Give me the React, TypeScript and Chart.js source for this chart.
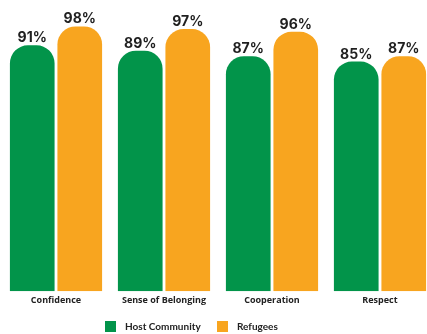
import React, { useEffect, useRef } from "react";
import { Chart, registerables } from "chart.js";

Chart.register(...registerables);

const categories = ["Confidence", "Sense of Belonging", "Cooperation", "Respect"];
const hostCommunity = [91, 89, 87, 85];
const refugees = [98, 97, 96, 87];
const seriesNames = ["Host Community", "Refugees"];
const GREEN = "#02944A";
const ORANGE = "#F8A51F";

const valueLabels = {
  id: "valueLabels",
  afterDatasetsDraw(chart: any) {
    const ctx = chart.ctx;
    ctx.save();
    ctx.font = "bold 14px Inter, 'DejaVu Sans', sans-serif";
    ctx.fillStyle = "#1f1f1f";
    ctx.textAlign = "center";
    ctx.textBaseline = "alphabetic";
    chart.data.datasets.forEach((ds: any, i: number) => {
      const meta = chart.getDatasetMeta(i);
      meta.data.forEach((bar: any, j: number) => {
        ctx.fillText(ds.data[j] + "%", bar.x, bar.y - 3);
      });
    });
    ctx.restore();
  },
};

export default function App() {
  const ref = useRef<HTMLCanvasElement>(null);
  useEffect(() => {
    if (!ref.current) return;
    const chart = new Chart(ref.current, {
      type: "bar",
      data: {
        labels: categories,
        datasets: [
          {
            label: seriesNames[0],
            data: hostCommunity,
            backgroundColor: GREEN,
            borderRadius: { topLeft: 18, topRight: 18, bottomLeft: 0, bottomRight: 0 },
            borderSkipped: false,
            barPercentage: 0.94,
            categoryPercentage: 0.88,
          },
          {
            label: seriesNames[1],
            data: refugees,
            backgroundColor: ORANGE,
            borderRadius: { topLeft: 18, topRight: 18, bottomLeft: 0, bottomRight: 0 },
            borderSkipped: false,
            barPercentage: 0.94,
            categoryPercentage: 0.88,
          },
        ],
      },
      options: {
        animation: false,
        responsive: false,
        maintainAspectRatio: false,
        layout: { padding: { top: 21, bottom: 24, left: 0, right: 0 } },
        plugins: { legend: { display: false }, tooltip: { enabled: false } },
        scales: {
          x: {
            grid: { display: false, drawTicks: false },
            border: { display: false },
            ticks: {
              padding: 4,
              color: "#222",
              font: { family: "'Open Sans', sans-serif", size: 9, weight: "bold" },
            },
          },
          y: {
            display: false,
            min: 0,
            max: 100,
          },
        },
      },
      plugins: [valueLabels],
    });
    return () => chart.destroy();
  }, []);

  const legendItem = (color: string, text: string, left: number) => (
    <div style={{ position: "absolute", left, top: 321, display: "flex", alignItems: "center", height: 11 }}>
      <div style={{ width: 11, height: 11, background: color, marginRight: 9 }} />
      <span style={{ fontFamily: "Lato, 'Open Sans', sans-serif", fontWeight: 700, fontSize: 10, color: "#222", lineHeight: "11px", whiteSpace: "nowrap" }}>{text}</span>
    </div>
  );

  return (
    <div style={{ position: "fixed", left: 0, top: 0, width: 427, height: 334, overflow: "hidden", background: "#fff" }}>
      <canvas ref={ref} width={432} height={334} style={{ position: "absolute", left: 2, top: 0, width: 432, height: 334 }} />
      {legendItem(GREEN, seriesNames[0], 105)}
      {legendItem(ORANGE, seriesNames[1], 217)}
    </div>
  );
}
